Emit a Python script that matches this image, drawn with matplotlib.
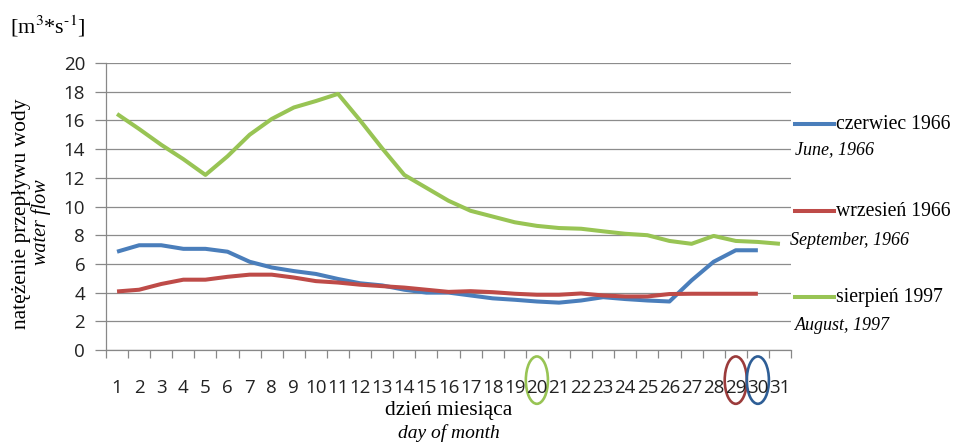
import numpy as np
import matplotlib
matplotlib.use('Agg')
import matplotlib.pyplot as plt
from matplotlib.patches import Ellipse
from matplotlib.lines import Line2D

days = [str(d) for d in range(1, 32)]
czerwiec_1966 = [6.85, 7.3, 7.3, 7.05, 7.05, 6.85, 6.15, 5.75, 5.5, 5.3, 4.95, 4.65, 4.5, 4.2, 4.0,
                 4.0, 3.8, 3.6, 3.5, 3.38, 3.3, 3.45, 3.68, 3.55, 3.45, 3.38, 4.85, 6.15, 6.95, 6.95, np.nan]
wrzesien_1966 = [4.08, 4.2, 4.6, 4.9, 4.9, 5.1, 5.25, 5.25, 5.05, 4.8, 4.7, 4.55, 4.45, 4.35, 4.2,
                 4.05, 4.1, 4.03, 3.92, 3.85, 3.85, 3.94, 3.8, 3.73, 3.73, 3.9, 3.92, 3.92, 3.92, 3.92, np.nan]
sierpien_1997 = [16.45, 15.4, 14.3, 13.3, 12.2, 13.5, 15.0, 16.1, 16.9, 17.35, 17.85, 16.0, 14.05, 12.2, 11.3,
                 10.4, 9.7, 9.3, 8.9, 8.65, 8.5, 8.45, 8.27, 8.1, 8.0, 7.6, 7.4, 7.95, 7.6, 7.53, 7.4]
series_pl = ['czerwiec 1966', 'wrzesień 1966', 'sierpień 1997']
series_en = ['June, 1966', 'September, 1966', 'August, 1997']
colors = ['#4A7EBB', '#BE4B48', '#98C454']
marked = [(20, '#98C454'), (29, '#9B3B3B'), (30, '#2E5E96')]

serif = ['Liberation Serif', 'DejaVu Serif']
sans = ['Open Sans', 'DejaVu Sans']
plt.rcParams['mathtext.fontset'] = 'stix'

W, H = 957, 444
fig = plt.figure(figsize=(W/100, H/100), dpi=100)
ax = fig.add_axes([106/W, 1-350/H, (791-106)/W, (350-63)/H])

x = np.arange(len(days))
lines = []
for vals, c in zip([czerwiec_1966, wrzesien_1966, sierpien_1997], colors):
    l, = ax.plot(x, vals, color=c, lw=2.9, solid_capstyle='butt', zorder=3)
    lines.append(l)

ax.set_xlim(-0.5, len(days)-0.5)
ax.set_ylim(0, 20)
ax.set_yticks(np.arange(0, 21, 2))
ax.set_xticks(x)
ax.set_xticklabels(days)
ax.set_xticks(np.arange(-0.5, len(days), 1), minor=True)
ax.tick_params(axis='x', which='major', length=0, pad=21)
ax.tick_params(axis='x', which='minor', length=6, color='#888888', width=0.9)
ax.tick_params(axis='y', length=8, color='#888888', width=0.9, pad=7)
for lab in ax.get_xticklabels() + ax.get_yticklabels():
    lab.set_family(sans)
    lab.set_fontsize(13.5)
    lab.set_color('#222222')
ax.grid(axis='y', color='#8c8c8c', lw=0.9, zorder=0)
for s in ['top', 'right']:
    ax.spines[s].set_visible(False)
for s in ['left', 'bottom']:
    ax.spines[s].set_color('#888888')
    ax.spines[s].set_linewidth(0.9)

# circled days
for d, c in marked:
    e = Ellipse((d-1, -0.105), 1.0, 0.165, transform=ax.get_xaxis_transform(),
                fill=False, ec=c, lw=1.9, clip_on=False)
    ax.add_patch(e)

# labels
fig.text(10/W, 1-26/H, '[m$^{3}$*s$^{\\text{-}1}$]', family=serif, fontsize=16, va='center', ha='left')
fig.text(22/W, 1-214/H, 'natężenie przepływu wody', family=serif, fontsize=15.5,
         rotation=90, va='center', ha='center')
fig.text(41/W, 1-222/H, 'water flow', family=serif, style='italic', fontsize=14.5,
         rotation=90, va='center', ha='center')
fig.text(449/W, 1-410/H, 'dzień miesiąca', family=serif, fontsize=15.5, va='center', ha='center')
fig.text(449/W, 1-433/H, 'day of month', family=serif, style='italic', fontsize=14, va='center', ha='center')

# legend
leg_y = [124, 211, 297]
sub_y = [150, 240, 325]
sub_x = [795, 790, 795]
for l, name, en, yy, sy, sx in zip(lines, series_pl, series_en, leg_y, sub_y, sub_x):
    fig.add_artist(Line2D([795/W, 834/W], [1-yy/H, 1-yy/H], color=l.get_color(), lw=2.9,
                          transform=fig.transFigure))
    fig.text(836/W, 1-yy/H, name, family=serif, fontsize=14.2, va='center', ha='left')
    fig.text(sx/W, 1-sy/H, en, family=serif, style='italic', fontsize=13, va='center', ha='left')

fig.savefig('out.png', dpi=100)
